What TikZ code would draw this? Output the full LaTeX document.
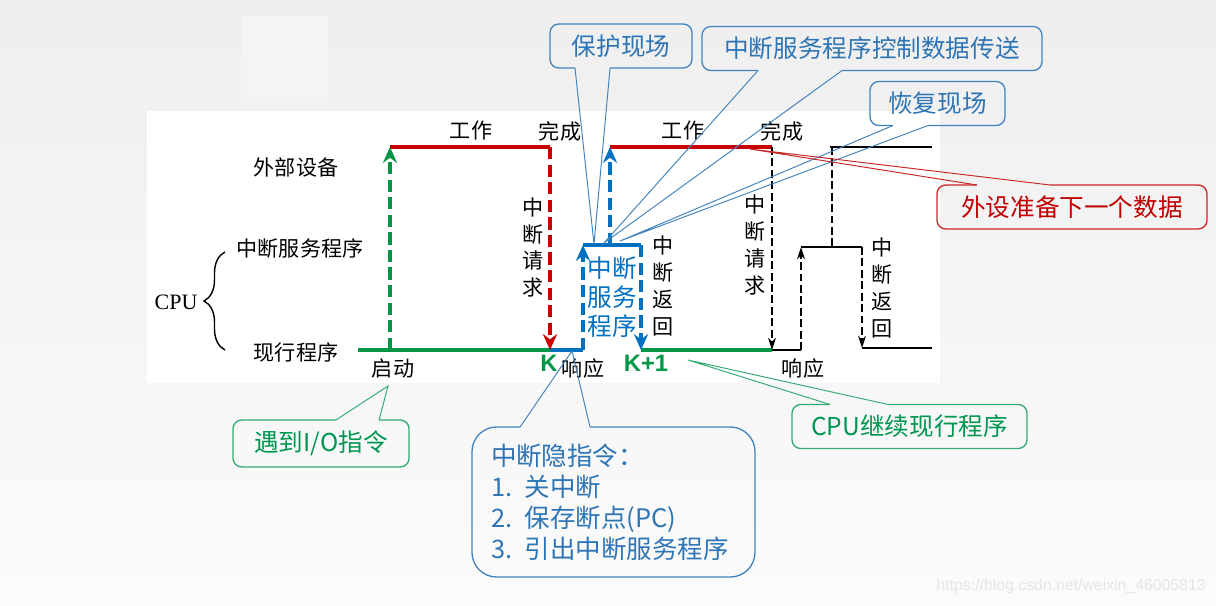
\documentclass[tikz,border=0pt]{standalone}
\usepackage{fontspec}
\setmainfont{Liberation Serif}
\newfontfamily\cjk{Noto Sans CJK SC}
\newfontfamily\lsans{Liberation Sans}
\usetikzlibrary{arrows.meta,calc,decorations.pathreplacing}
\definecolor{cpugreen}{RGB}{0,150,70}
\definecolor{devred}{RGB}{200,0,0}
\definecolor{isrblue}{RGB}{0,112,192}
\definecolor{noteblue}{RGB}{46,117,182}
\definecolor{notegreen}{RGB}{0,150,80}
\definecolor{notered}{RGB}{192,0,0}

% callout outline with a wedge on the lower / upper edge
\newcommand{\tailbelow}[5]{%
  \draw[rounded corners=5pt,#2] ($(#1.south west)!#4!(#1.south east)$) -- (#1.south east)
    -- (#1.north east) -- (#1.north west) -- (#1.south west) -- ($(#1.south west)!#3!(#1.south east)$);
  \draw[#2,sharp corners,line width=0.55pt] ($(#1.south west)!#3!(#1.south east)$) -- (#5)
    -- ($(#1.south west)!#4!(#1.south east)$);
}
\newcommand{\tailabove}[5]{%
  \draw[rounded corners=5pt,#2] ($(#1.north west)!#4!(#1.north east)$) -- (#1.north east)
    -- (#1.south east) -- (#1.south west) -- (#1.north west) -- ($(#1.north west)!#3!(#1.north east)$);
  \draw[#2,sharp corners,line width=0.55pt] ($(#1.north west)!#3!(#1.north east)$) -- (#5)
    -- ($(#1.north west)!#4!(#1.north east)$);
}

\begin{document}
\begin{tikzpicture}[
  lbl/.style={font=\cjk\fontsize{12}{15.3}\selectfont, inner sep=0pt, align=center},
  klbl/.style={font=\lsans\bfseries\fontsize{13.5}{15}\selectfont, text=cpugreen, inner sep=0pt},
  note/.style={font=\cjk\fontsize{14}{17}\selectfont, inner sep=0pt, outer sep=0pt,
    minimum height=0.88cm},
  noteline/.style={draw=noteblue!90, line width=0.75pt},
  greenline/.style={draw=notegreen!80, line width=0.75pt},
  redline/.style={draw=notered!85, line width=0.75pt},
  gline/.style={line width=2.2pt, cpugreen},
  rline/.style={line width=2.2pt, devred},
  bline/.style={line width=2.2pt, isrblue},
  kline/.style={line width=1pt, black},
  gdash/.style={line width=2.1pt, cpugreen, dash pattern=on 7pt off 3pt,
    -{Stealth[length=9pt,width=8pt]}},
  rdash/.style={gdash, devred},
  bdash/.style={gdash, isrblue},
  kdash/.style={line width=0.9pt, black, dash pattern=on 4.5pt off 2pt,
    -{Stealth[length=7pt,width=4.5pt]}}
]
\useasboundingbox (0,0) rectangle (24.32,-12.12);
\shade[top color=gray!13, bottom color=gray!3] (0,0) rectangle (24.32,-12.12);
\fill[gray!9] (4.82,-0.32) rectangle (6.56,-2.06);
\fill[white] (2.94,-2.22) rectangle (18.80,-7.66);

% time line points
\coordinate (cur0) at (7.16,-7.00);
\coordinate (go) at (7.80,-7.00);
\coordinate (goT) at (7.80,-2.94);
\coordinate (done1) at (11.00,-2.94);
\coordinate (kpt) at (11.00,-7.00);
\coordinate (resp) at (11.66,-7.00);
\coordinate (respT) at (11.66,-4.90);
\coordinate (ctl) at (12.20,-4.90);
\coordinate (ctlT) at (12.20,-2.94);
\coordinate (iret) at (12.82,-4.90);
\coordinate (iretB) at (12.82,-7.00);
\coordinate (done2) at (15.44,-2.94);
\coordinate (req2) at (15.44,-7.00);
\coordinate (resp2) at (16.02,-7.00);
\coordinate (resp2T) at (16.02,-4.94);
\coordinate (top3L) at (16.60,-2.94);
\coordinate (top3R) at (18.64,-2.94);
\coordinate (dev3) at (16.64,-2.94);
\coordinate (dev3B) at (16.64,-4.94);
\coordinate (ret2T) at (17.24,-4.94);
\coordinate (ret2B) at (17.24,-6.96);
\coordinate (end2) at (18.64,-6.96);

\draw[gline] (cur0) -- (kpt);
\draw[bline] (kpt) -- (resp);
\draw[bline] (respT) -- (iret);
\draw[gline] (iretB) -- (req2);
\draw[kline] (req2) -- (resp2);
\draw[kline] (resp2T) -- (ret2T);
\draw[kline] (ret2B) -- (end2);
\draw[kline] (top3L) -- (top3R);
\draw[rline] (goT) -- (done1);
\draw[rline] (ctlT) -- (done2);

\draw[gdash] (go) -- (goT);
\draw[rdash] (done1) -- (kpt);
\draw[bdash] (resp) -- (respT);
\draw[bdash] (ctl) -- (ctlT);
\draw[bdash] (iret) -- (iretB);
\draw[kdash] (done2) -- (req2);
\draw[kdash] (resp2) -- (resp2T);
\draw[kdash,-] (dev3) -- (dev3B);
\draw[kdash] (ret2T) -- (ret2B);

% row labels
\node[lbl] (dev) at (5.92,-3.34) {外部设备};
\node[lbl] (isr) at (6.00,-4.96) {中断服务程序};
\node[lbl] (cur) at (5.92,-7.04) {现行程序};
\node[lbl,font=\fontsize{12.5}{14}\selectfont] (cpu) at (3.52,-6.04) {CPU};
\draw[decorate,decoration={brace,amplitude=0.42cm},line width=0.8pt] (4.50,-7.00) -- (4.50,-5.04);

% time line labels
\node[lbl] (work1) at (9.42,-2.62) {工作};
\node[lbl] (fin1) at (11.20,-2.62) {完成};
\node[lbl] (work2) at (13.66,-2.62) {工作};
\node[lbl] (fin2) at (15.64,-2.62) {完成};
\node[lbl] (req1) at (10.66,-4.95) {中\\断\\请\\求};
\node[lbl] (start) at (7.86,-7.36) {启动};
\node[lbl] (ack1) at (11.66,-7.36) {响应};
\node[klbl] (kk) at (10.98,-7.26) {K};
\node[klbl] (kk1) at (12.92,-7.26) {K+1};
\node[lbl,font=\cjk\fontsize{14}{16.4}\selectfont,text=isrblue] (isrtxt) at (12.24,-5.94) {中断\\服务\\程序};
\node[lbl] (ret1) at (13.26,-5.72) {中\\断\\返\\回};
\node[lbl] (req2t) at (15.10,-4.90) {中\\断\\请\\求};
\node[lbl] (ack2) at (16.06,-7.36) {响应};
\node[lbl] (ret2) at (17.64,-5.76) {中\\断\\返\\回};

% callouts
\node[note,text=noteblue,minimum width=2.84cm] (protect) at (12.42,-0.92) {保护现场};
\node[note,text=noteblue,minimum width=6.80cm] (transfer) at (17.44,-0.97) {中断服务程序控制数据传送};
\node[note,text=noteblue,minimum width=2.70cm] (restore) at (18.75,-2.07) {恢复现场};
\node[note,text=notered,minimum width=5.40cm] (nextdata) at (21.44,-4.14) {外设准备下一个数据};
\node[note,text=notegreen,minimum width=4.70cm] (goon) at (18.19,-8.53) {CPU继续现行程序};
\node[note,text=notegreen,minimum width=3.52cm,minimum height=0.94cm] (ioinst) at (6.42,-8.87) {遇到I/O指令};
\node[note,text=noteblue,text width=4.9cm,inner xsep=0.38cm,minimum height=3.00cm,align=left,
  font=\cjk\fontsize{14.5}{17.6}\selectfont] (hidden) at (12.27,-10.04)
  {中断隐指令：\\1. 关中断\\2. 保存断点(PC)\\3. 引出中断服务程序};

\coordinate (protectTip) at (11.88,-4.88);
\coordinate (transferTip) at (12.08,-4.86);
\coordinate (restoreTip) at (12.40,-4.82);
\coordinate (nextTip) at (15.00,-2.98);
\coordinate (goonTip) at (13.76,-7.20);
\coordinate (ioTip) at (7.76,-7.72);
\coordinate (hiddenTip) at (11.44,-7.02);

\tailbelow{protect}{noteline}{0.176}{0.423}{protectTip}
\tailbelow{transfer}{noteline}{0.165}{0.412}{transferTip}
\tailbelow{restore}{noteline}{0.17}{0.43}{restoreTip}
\tailabove{nextdata}{redline}{0.148}{0.419}{nextTip}
\tailabove{goon}{greenline}{0.162}{0.409}{goonTip}
\tailabove{ioinst}{greenline}{0.585}{0.83}{ioTip}
\tailabove{hidden}{noteline,rounded corners=14pt}{0.17}{0.417}{hiddenTip}

\node[font=\lsans\fontsize{9}{11}\selectfont,text=gray!20,anchor=east,inner sep=0pt] (mark)
  at (24.12,-11.72) {https://blog.csdn.net/weixin\_46005813};
\end{tikzpicture}
\end{document}
